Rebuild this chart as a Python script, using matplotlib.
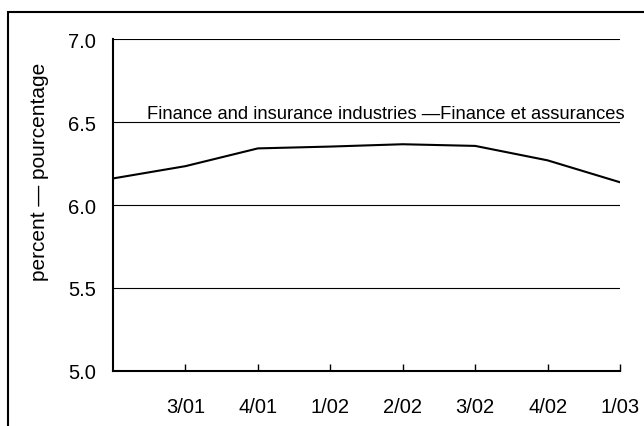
import matplotlib
matplotlib.use('Agg')
import matplotlib.pyplot as plt
from matplotlib.patches import Rectangle

# quarterly values, first point (2/01) has no label
quarters = ['', '3/01', '4/01', '1/02', '2/02', '3/02', '4/02', '1/03']
rate = [6.16, 6.234, 6.341, 6.352, 6.366, 6.356, 6.269, 6.137]
series_label = 'Finance and insurance industries \u2014Finance et assurances'

plt.rcParams['font.family'] = ['Liberation Sans', 'DejaVu Sans']

fig = plt.figure(figsize=(6.44, 4.27), dpi=100)
ax = fig.add_axes([113 / 644, 1 - 372 / 427, 507 / 644, 332 / 427])

x = list(range(len(rate)))
ax.plot(x, rate, color='black', lw=1.5, solid_joinstyle='round')

ax.set_xlim(0, 7)
ax.set_ylim(5.0, 7.0)
ax.set_yticks([5.0, 5.5, 6.0, 6.5, 7.0])
ax.set_yticklabels(['5.0', '5.5', '6.0', '6.5', '7.0'])
ax.set_xticks(x[1:])
ax.set_xticklabels(quarters[1:])
ax.tick_params(axis='x', direction='in', length=5, width=1, pad=19, labelsize=14.5)
ax.tick_params(axis='y', length=0, pad=12, labelsize=14.5)

for v in [5.5, 6.0, 6.5, 7.0]:
    ax.axhline(v, color='black', lw=0.8, zorder=0)

for s in ['top', 'right']:
    ax.spines[s].set_visible(False)
ax.spines['left'].set_linewidth(1.5)
ax.spines['bottom'].set_linewidth(1.5)

# y label sits a bit above the middle of the axis
fig.text(40 / 644, 1 - 172 / 427, 'percent \u2014 pourcentage', fontsize=15,
         rotation=90, ha='center', va='center')

ax.text(0.47, 6.525, series_label, fontsize=13.2, va='baseline', ha='left')

# outer frame, runs off the right and bottom of the picture
fig.patches.append(Rectangle((8 / 644, -0.1), 1.2, 1 - 13 / 427 + 0.1,
                             transform=fig.transFigure, fill=False,
                             edgecolor='black', lw=1.5))

fig.savefig('out.png', dpi=100)
